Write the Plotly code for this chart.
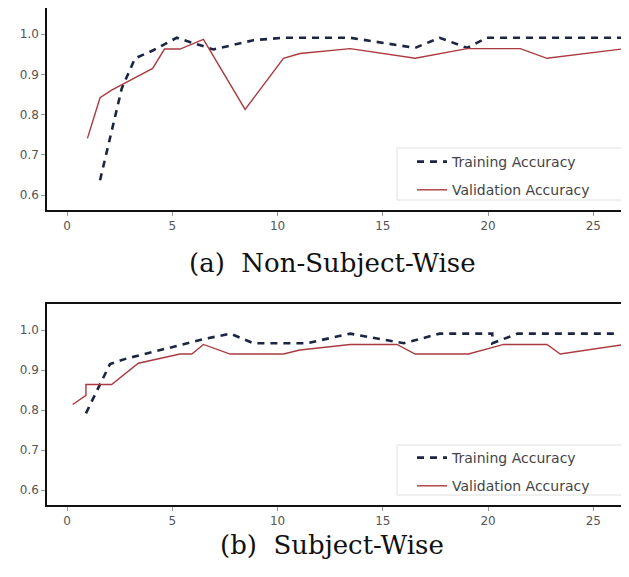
import plotly.graph_objects as go
from plotly.subplots import make_subplots

# (a) Non-Subject-Wise
a_val_x = [0.97, 1.57, 2.12, 2.76, 3.47, 4.07, 4.63, 5.37, 6.48, 8.46, 10.28, 11.07, 13.45, 16.54, 19.0, 21.53, 22.8, 26.5]
a_val_y = [0.741, 0.842, 0.861, 0.879, 0.898, 0.915, 0.963, 0.963, 0.987, 0.813, 0.940, 0.952, 0.964, 0.940, 0.964, 0.964, 0.940, 0.964]
a_tr_x = [1.57, 2.6, 3.23, 4.1, 5.21, 6.95, 8.86, 10.28, 13.45, 16.54, 17.7, 19.0, 19.95, 26.5]
a_tr_y = [0.637, 0.865, 0.94, 0.96, 0.991, 0.962, 0.985, 0.991, 0.991, 0.966, 0.991, 0.966, 0.991, 0.991]

# (b) Subject-Wise
b_val_x = [0.27, 0.9, 0.9, 2.12, 3.39, 5.37, 5.93, 6.48, 7.75, 10.28, 11.07, 13.45, 15.67, 16.54, 19.07, 20.74, 22.8, 23.43, 26.5]
b_val_y = [0.814, 0.837, 0.864, 0.864, 0.917, 0.94, 0.94, 0.964, 0.94, 0.94, 0.95, 0.964, 0.964, 0.94, 0.94, 0.964, 0.964, 0.94, 0.964]
b_tr_x = [0.9, 2.04, 2.84, 4.75, 6.48, 7.75, 8.86, 11.4, 13.45, 16.0, 17.7, 20.2, 20.2, 21.4, 26.1]
b_tr_y = [0.792, 0.915, 0.929, 0.954, 0.977, 0.991, 0.967, 0.967, 0.991, 0.967, 0.991, 0.991, 0.967, 0.991, 0.991]

x_ticks = [0, 5, 10, 15, 20, 25]
y_ticks = [0.6, 0.7, 0.8, 0.9, 1.0]
y_tick_text = ["0.6", "0.7", "0.8", "0.9", "1.0"]
captions = ["(a)  Non-Subject-Wise", "(b)  Subject-Wise"]

TRAIN_COLOR = "#1c2541"
VAL_COLOR = "#ab3a40"

# page has an 8px body margin; figure is sized/offset to compensate
W, H = 621, 569
PLOT_H = 497
L = 39
PLOT_W = W - L - 2
fig = make_subplots(rows=2, cols=1)
top = (PLOT_H - 202) / PLOT_H      # bottom of upper panel
bot = (PLOT_H - 296) / PLOT_H      # top of lower panel


def px_x(page_x):
    return (page_x - 8 - L) / PLOT_W


def px_y(page_y):
    return (PLOT_H - (page_y - 8)) / PLOT_H


for r, (vx, vy, tx, ty) in enumerate([(a_val_x, a_val_y, a_tr_x, a_tr_y), (b_val_x, b_val_y, b_tr_x, b_tr_y)], start=1):
    fig.add_trace(go.Scatter(x=tx, y=ty, mode="lines", name="Training Accuracy",
                             line=dict(color=TRAIN_COLOR, width=2.6, dash="7px,6px"),
                             legend="legend" if r == 1 else "legend2", legendgroup=f"t{r}"), row=r, col=1)
    fig.add_trace(go.Scatter(x=vx, y=vy, mode="lines", name="Validation Accuracy",
                             line=dict(color=VAL_COLOR, width=1.4),
                             legend="legend" if r == 1 else "legend2", legendgroup=f"v{r}"), row=r, col=1)

axis_common = dict(showgrid=False, zeroline=False, showline=True, linecolor="#111", linewidth=1.5,
                   ticks="outside", ticklen=4, tickcolor="#999", tickwidth=1,
                   tickfont=dict(family="DejaVu Sans", size=12, color="#555"))

for r in (1, 2):
    fig.update_xaxes(range=[-0.95, 26.6], tickvals=x_ticks, mirror=True, **axis_common, row=r, col=1)
    fig.update_yaxes(range=[0.563, 1.065], tickvals=y_ticks, ticktext=y_tick_text, mirror=False, **axis_common, row=r, col=1)

fig.update_layout(
    xaxis=dict(domain=[0, 1]), xaxis2=dict(domain=[0, 1]),
    yaxis=dict(domain=[top, 1.0]), yaxis2=dict(domain=[0, bot]),
)

# legend frames
for (y0, y1) in [(148, 200), (445, 495)]:
    fig.add_shape(type="rect", xref="paper", yref="paper",
                  x0=px_x(397), x1=px_x(623), y0=px_y(y1), y1=px_y(y0),
                  line=dict(color="#e0e0e0", width=1), fillcolor="white", layer="below")

legend_common = dict(bgcolor="rgba(0,0,0,0)", borderwidth=0,
                     font=dict(family="DejaVu Sans", size=14, color="#444"),
                     xanchor="left", yanchor="top", tracegroupgap=7, itemwidth=30)
fig.update_layout(
    legend=dict(x=px_x(412), y=px_y(146), **legend_common),
    legend2=dict(x=px_x(412), y=px_y(442), **legend_common),
)

cap_font = dict(family="DejaVu Serif", size=26, color="#111")
fig.add_annotation(text=captions[0], xref="paper", yref="paper", x=px_x(332), y=px_y(263),
                   showarrow=False, font=cap_font, xanchor="center", yanchor="middle")
fig.add_annotation(text=captions[1], xref="paper", yref="paper", x=px_x(332), y=px_y(545),
                   showarrow=False, font=cap_font, xanchor="center", yanchor="middle")

fig.update_layout(width=W, height=H, margin=dict(l=L, r=2, t=0, b=H - PLOT_H, autoexpand=False),
                  plot_bgcolor="white", paper_bgcolor="white", showlegend=True)

fig.write_html("out.html")
